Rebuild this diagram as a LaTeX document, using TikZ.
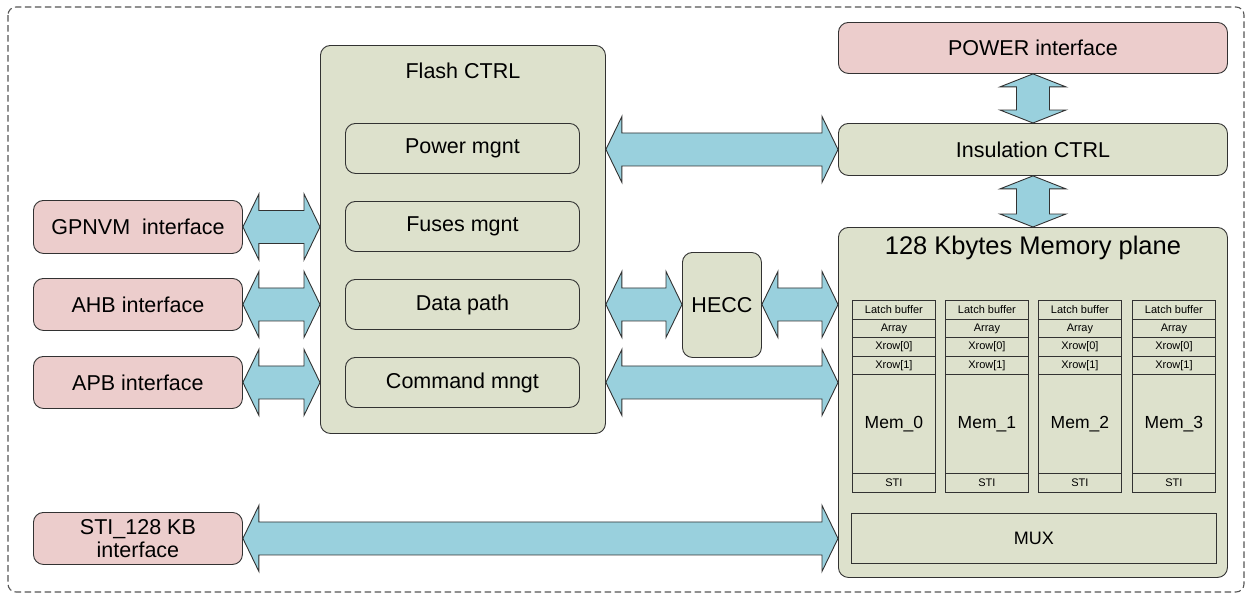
\documentclass[tikz,border=0pt]{standalone}
\usepackage{fontspec}
\setmainfont{Liberation Sans}
\usetikzlibrary{calc}
\definecolor{pinkfill}{RGB}{236,205,204}
\definecolor{greenfill}{RGB}{221,225,204}
\definecolor{arrowfill}{RGB}{153,208,221}
\definecolor{edgecol}{RGB}{50,50,50}
\definecolor{framecol}{RGB}{85,85,85}
\tikzset{
  box/.style={draw=edgecol, line width=0.9pt, rounded corners=10pt, inner sep=0pt, anchor=north west, align=center, font=\fontsize{21.5}{24}\selectfont},
  pinkbox/.style={box, fill=pinkfill},
  greenbox/.style={box, fill=greenfill},
  subbox/.style={box, fill=greenfill},
  cell/.style={draw=edgecol, line width=0.8pt, fill=greenfill, inner sep=0pt, anchor=north west, minimum width=83pt, font=\fontsize{11}{12}\selectfont},
  bigarrow/.style={draw=edgecol, line width=0.9pt, fill=arrowfill, line join=miter},
}
\newcommand{\hdarrow}[2]{%
  \draw[bigarrow] let \p1=(#1), \p2=(#2) in
    (\x1,\y1) -- (\x1+16pt,\y1+33pt) -- (\x1+16pt,\y1+16.5pt) -- (\x2-16pt,\y1+16.5pt)
    -- (\x2-16pt,\y1+33pt) -- (\x2,\y1) -- (\x2-16pt,\y1-33pt) -- (\x2-16pt,\y1-16.5pt)
    -- (\x1+16pt,\y1-16.5pt) -- (\x1+16pt,\y1-33pt) -- cycle;}
\newcommand{\vdarrow}[2]{%
  \draw[bigarrow] let \p1=(#1), \p2=(#2) in
    (\x1,\y1) -- (\x1+33pt,\y1-13pt) -- (\x1+16.5pt,\y1-13pt) -- (\x1+16.5pt,\y2+13pt)
    -- (\x1+33pt,\y2+13pt) -- (\x1,\y2) -- (\x1-33pt,\y2+13pt) -- (\x1-16.5pt,\y2+13pt)
    -- (\x1-16.5pt,\y1-13pt) -- (\x1-33pt,\y1-13pt) -- cycle;}
\begin{document}
\begin{tikzpicture}[x=1pt,y=-1pt]
\useasboundingbox (0,0) rectangle (1250,597);
% outer dashed frame
\draw[draw=framecol, line width=1.1pt, dash pattern=on 6.5pt off 3.5pt, rounded corners=8pt] (8,7) rectangle (1244,592);

% Flash CTRL
\node[greenbox, minimum width=285pt, minimum height=388pt,
  label={[anchor=center, yshift=-26pt, font=\fontsize{21.5}{24}\selectfont]north:Flash CTRL}] (flash) at (320,45) {};
\node[subbox, minimum width=234pt, minimum height=50pt] (pm) at (345,123) {Power mgnt};
\node[subbox, minimum width=234pt, minimum height=50pt] (fm) at (345,201) {Fuses mgnt};
\node[subbox, minimum width=234pt, minimum height=50pt] (dp) at (345,279) {Data path};
\node[subbox, minimum width=234pt, minimum height=50pt] (cm) at (345,357) {Command mngt};

% left interfaces
\node[pinkbox, minimum width=209pt, minimum height=53pt] (gp) at (33,200) {GPNVM\ \ interface};
\node[pinkbox, minimum width=209pt, minimum height=52pt] (ahb) at (33,278) {AHB interface};
\node[pinkbox, minimum width=209pt, minimum height=52pt] (apb) at (33,356) {APB interface};
\node[pinkbox, minimum width=209pt, minimum height=52pt, font=\fontsize{21.5}{23}\selectfont] (sti) at (33,512) {STI\_128 KB\\interface};

% HECC
\node[greenbox, minimum width=79pt, minimum height=105pt] (hecc) at (682,252) {HECC};

% right column
\node[pinkbox, minimum width=389pt, minimum height=51pt] (pwr) at (838,22) {POWER interface};
\node[greenbox, minimum width=389pt, minimum height=52pt] (ins) at (838,123) {Insulation CTRL};
\node[greenbox, minimum width=389pt, minimum height=350pt,
  label={[anchor=center, yshift=-21pt, font=\fontsize{25.5}{28}\selectfont]north:128 Kbytes Memory plane}] (mem) at (838,227) {};

% memory banks
\foreach \i/\x in {0/852,1/945,2/1038,3/1132}{
  \node[cell, minimum height=19pt] (lb\i) at (\x,300) {Latch buffer};
  \node[cell, minimum height=18pt] (ar\i) at (\x,319) {Array};
  \node[cell, minimum height=19pt] (xa\i) at (\x,337) {Xrow[0]};
  \node[cell, minimum height=18pt] (xb\i) at (\x,356) {Xrow[1]};
  \node[cell, minimum height=99pt, font=\fontsize{17.5}{20}\selectfont] (mb\i) at (\x,374) {Mem\_\i};
  \node[cell, minimum height=19pt] (st\i) at (\x,473) {STI};
}
\node[cell, minimum width=365pt, minimum height=50pt, font=\fontsize{18}{20}\selectfont] (mux) at (851,513) {MUX};

% arrows
\hdarrow{gp.east}{flash.west |- gp.east}
\hdarrow{ahb.east}{flash.west |- ahb.east}
\hdarrow{apb.east}{flash.west |- apb.east}
\hdarrow{flash.east |- ins.west}{ins.west}
\hdarrow{flash.east |- dp.east}{hecc.west |- dp.east}
\hdarrow{hecc.east |- dp.east}{mem.west |- dp.east}
\hdarrow{flash.east |- cm.east}{mem.west |- cm.east}
\hdarrow{sti.east}{mem.west |- sti.east}
\vdarrow{pwr.south}{ins.north}
\vdarrow{ins.south}{mem.north}
\end{tikzpicture}
\end{document}
